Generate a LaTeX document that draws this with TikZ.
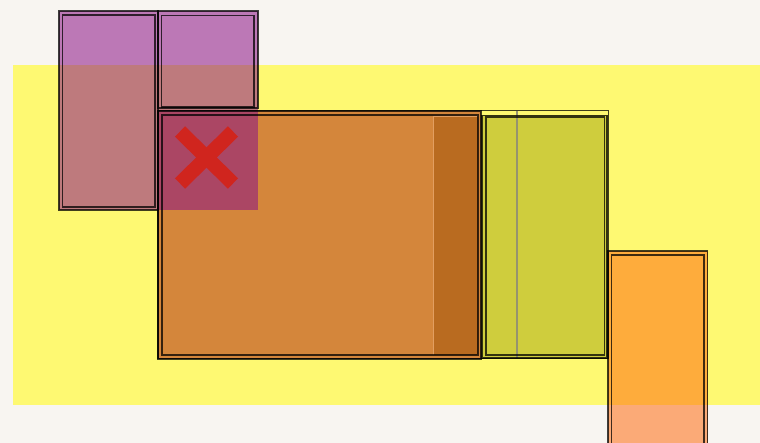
\documentclass[tikz,border=0pt]{standalone}
\definecolor{bgc}{RGB}{248,245,241}
\definecolor{band}{RGB}{254,249,114}
\definecolor{orgmain}{RGB}{212,134,59}
\definecolor{orgdark}{RGB}{185,107,32}
\definecolor{orgedge}{RGB}{226,158,96}
\definecolor{ygreen}{RGB}{207,205,61}
\definecolor{purp}{RGB}{139,18,135}
\definecolor{orgright}{RGB}{255,105,12}
\definecolor{redx}{RGB}{208,37,30}
\definecolor{grayline}{RGB}{150,148,110}
\tikzset{
  frameline/.style={draw=black, draw opacity=0.75, line width=1.3pt},
  xarm/.style={draw=redx, line width=14.5pt, line cap=butt}
}
\begin{document}
\begin{tikzpicture}[x=1pt,y=-1pt]
\useasboundingbox (0,0) rectangle (760,443);
\fill[bgc] (0,0) rectangle (760,443);
\fill[band] (13,65) rectangle (760,405);
% main orange box and strip
\fill[orgmain] (158,111) rectangle (481,359);
\fill[orgdark] (433,116) rectangle (478,355);
\draw[orgedge, line width=1pt] (433.5,355) -- (433.5,116.5) -- (478,116.5);
% yellow-green box
\fill[ygreen] (482,115.5) rectangle (608,359);
\draw[grayline, line width=1.5pt] (517,111) -- (517,358);
% right orange box
\fill[orgright, fill opacity=0.53] (608,251) rectangle (707.5,450);
% purple group
\fill[purp, fill opacity=0.55] (59,11) rectangle (258,210);
% red cross
\coordinate (xc) at (206.5,157.5);
\draw[xarm] (180,131.5) -- (233,183.5);
\draw[xarm] (233,131.5) -- (180,183.5);
% outlines
\draw[frameline] (59,11) rectangle (158,210);
\draw[frameline] (62.5,15) rectangle (155,207);
\draw[frameline] (158,11) rectangle (258,108);
\draw[frameline] (161.5,15.5) rectangle (254,107);
\draw[frameline] (158,110.5) rectangle (608.5,358.5);
\draw[frameline] (158,111) rectangle (481,359);
\draw[frameline] (162,115) rectangle (478,355);
\draw[frameline] (482,115.5) rectangle (607,358);
\draw[frameline] (486,117) rectangle (604.5,355);
\draw[frameline] (608,251) rectangle (707.5,450);
\draw[frameline] (611.5,255) rectangle (704,450);
\end{tikzpicture}
\end{document}
